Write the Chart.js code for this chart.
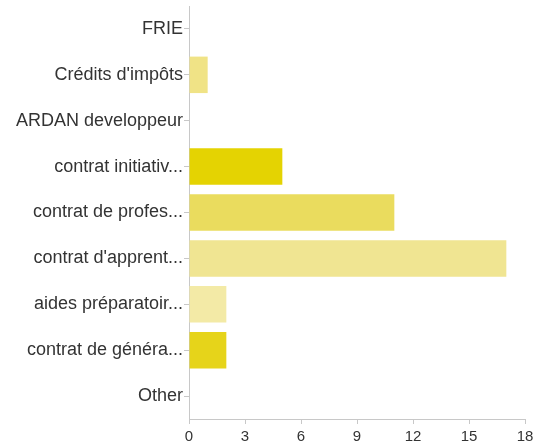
<!DOCTYPE html>
<html>
<head>
<meta charset="utf-8">
<script src="https://cdn.jsdelivr.net/npm/chart.js@4/dist/chart.umd.min.js"></script>
<style>
  html, body { margin: 0; padding: 0; background: #fff; }
  #wrap { width: 535px; height: 446px; position: relative; }
</style>
</head>
<body>
<div id="wrap"><canvas id="c" width="535" height="446"></canvas></div>
<script>
// Answer categories (as displayed, truncated labels included)
const categories = [
  "FRIE",
  "Crédits d'impôts",
  "ARDAN developpeur",
  "contrat initiativ...",
  "contrat de profes...",
  "contrat d'apprent...",
  "aides préparatoir...",
  "contrat de généra...",
  "Other"
];

// Number of responses per category
const responses = [0, 1, 0, 5, 11, 17, 2, 2, 0];

// Value axis ticks
const xTicks = [0, 3, 6, 9, 12, 15, 18];

// One shade of yellow per bar
const barColors = [
  "#ece07a",
  "#f0e386",
  "#ece07a",
  "#e4d302",
  "#eadc5e",
  "#f0e592",
  "#f3eaa6",
  "#e6d41a",
  "#ece07a"
];

const axisGray = "#c8c8c8";
const fontFamily = "'Liberation Sans', Arial, Helvetica, sans-serif";

new Chart(document.getElementById("c"), {
  type: "bar",
  data: {
    labels: categories,
    datasets: [{
      data: responses,
      backgroundColor: barColors,
      borderWidth: 0,
      categoryPercentage: 1.0,
      barPercentage: 0.795
    }]
  },
  options: {
    indexAxis: "y",
    responsive: false,
    animation: false,
    layout: { padding: { top: 6, right: 10, left: 0, bottom: 0 } },
    plugins: { legend: { display: false }, tooltip: { enabled: false } },
    scales: {
      x: {
        min: xTicks[0],
        max: xTicks[xTicks.length - 1],
        afterBuildTicks: (scale) => { scale.ticks = xTicks.map(v => ({ value: v })); },
        afterFit: (scale) => {
          scale.height = 27;
          scale.paddingLeft = 0;
          scale.paddingRight = 0;
        },
        grid: { drawOnChartArea: false, drawTicks: true, tickLength: 5, color: axisGray },
        border: { color: axisGray, width: 1 },
        ticks: { color: "#333", font: { family: fontFamily, size: 15 }, padding: 4, maxRotation: 0 }
      },
      y: {
        afterFit: (scale) => {
          scale.width = 189;
          scale.paddingTop = 0;
          scale.paddingBottom = 0;
        },
        grid: { offset: false, drawOnChartArea: false, drawTicks: true, tickLength: 5, color: axisGray },
        border: { color: axisGray, width: 1 },
        ticks: { color: "#333", font: { family: fontFamily, size: 18 }, padding: 1, autoSkip: false }
      }
    }
  }
});
</script>
</body>
</html>
